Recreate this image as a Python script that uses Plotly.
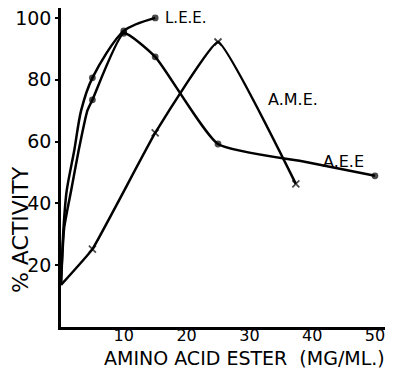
import plotly.graph_objects as go

# L.E.E. - circles (unmarked points trace the drawn curve near the origin)
lee_x = [0, 0.4, 0.9, 2.1, 3.2, 5, 10, 15]
lee_y = [14, 32, 44, 57, 70, 80.6, 95.8, 100]
lee_marked = [False, False, False, False, False, True, True, True]

# A.E.E. - circles
aee_x = [0, 0.5, 1.6, 2.8, 4.2, 5, 10, 15, 25, 39, 50]
aee_y = [14, 32, 44, 57, 70, 73.5, 95, 87.4, 59.2, 53.4, 48.9]
aee_marked = [False, False, False, False, False, True, True, True, True, False, True]

# A.M.E. - crosses
ame_x = [0, 5, 15, 25, 37.4]
ame_y = [13.6, 25.2, 62.8, 92.2, 46.3]
ame_marked = [False, True, True, True, True]

x_ticks = [10, 20, 30, 40, 50]
y_ticks = [20, 40, 60, 80, 100]

FONT = "DejaVu Sans"

fig = go.Figure()

def add(xs, ys, marked, symbol, size, smooth):
    fig.add_trace(go.Scatter(
        x=xs, y=ys, mode="lines+markers",
        line=dict(color="black", width=2.5, shape="spline", smoothing=smooth),
        marker=dict(symbol=symbol, color="black",
                    size=[size if m else 0 for m in marked],
                    line=dict(width=1.8, color="black")),
        showlegend=False, hoverinfo="skip"))

add(lee_x, lee_y, lee_marked, "circle", 5, 0.8)
add(aee_x, aee_y, aee_marked, "circle", 5, 0.5)
add(ame_x, ame_y, ame_marked, "x-thin", 7, 0.3)

lab = dict(family=FONT, size=15, color="black")
fig.add_annotation(x=16.2, y=100, text="L.E.E.", showarrow=False, xanchor="left", font=lab)
fig.add_annotation(x=36.9, y=73.7, text="A.M.E.", showarrow=False, font=dict(lab, size=16))
fig.add_annotation(x=45.0, y=53.4, text="A.E.E", showarrow=False, font=dict(lab, size=16))

# axis titles
fig.add_annotation(xref="paper", yref="paper", x=-0.1265, y=0.304,
                   xanchor="center", yanchor="middle",
                   text="% ACTIVITY", textangle=-90, showarrow=False,
                   font=dict(family=FONT, size=22, color="black"))
fig.add_annotation(xref="paper", yref="paper", x=0.565, y=-0.0972,
                   xanchor="center", yanchor="middle",
                   text="AMINO ACID ESTER  (MG/ML.)", showarrow=False,
                   font=dict(family=FONT, size=19, color="black"))

fig.update_layout(
    width=388, height=367,
    margin=dict(l=53, r=11, t=0, b=48, autoexpand=False),
    paper_bgcolor="white", plot_bgcolor="white",
    font=dict(family=FONT, color="black"),
    xaxis=dict(range=[0, 51.6], tickvals=x_ticks, ticks="", showgrid=False,
               zeroline=False, showline=True, linecolor="black", linewidth=2.5,
               tickfont=dict(size=16), ticklabelstandoff=-8, automargin=False,
               ticklabeloverflow="allow"),
    yaxis=dict(range=[0, 103.2], tickvals=y_ticks, ticks="outside", ticklen=3,
               tickwidth=2, tickcolor="black", showgrid=False, zeroline=False,
               showline=True, linecolor="black", linewidth=2.5,
               tickfont=dict(size=19), automargin=False,
               ticklabeloverflow="allow"),
)

fig.write_html("out.html")
